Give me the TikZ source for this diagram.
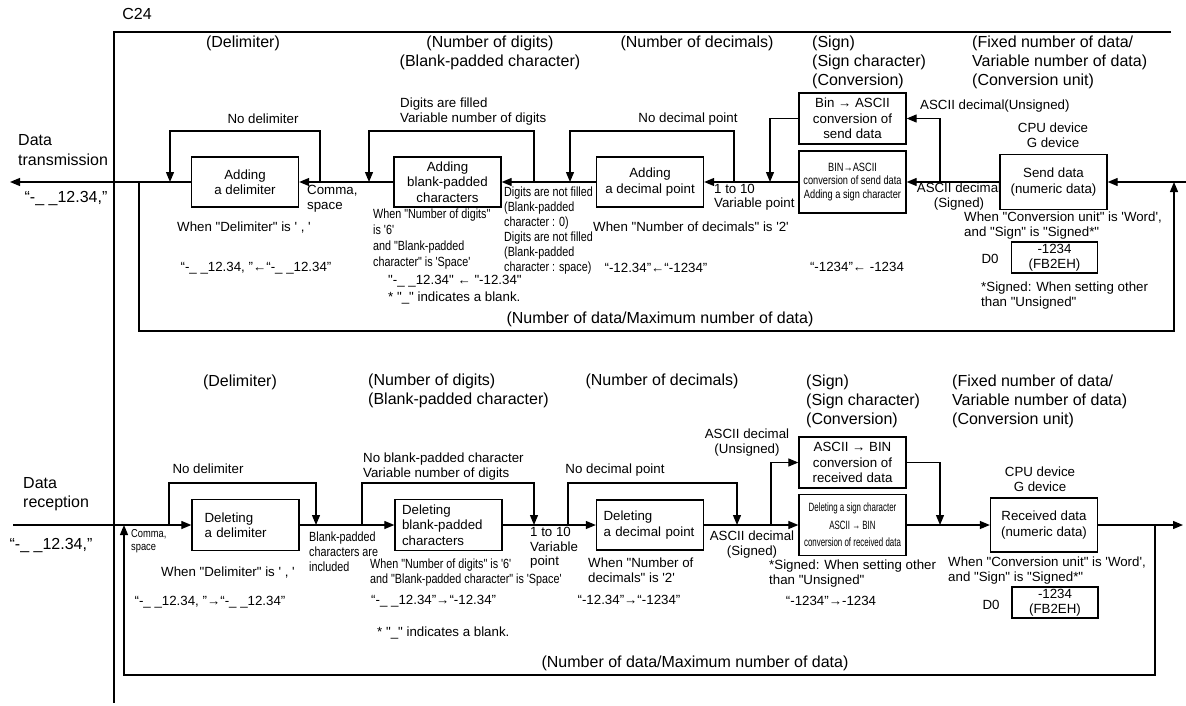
\documentclass[tikz,border=0pt]{standalone}
\usepackage{fontspec}
\newfontfamily\arialfont{Liberation Sans}
\newfontfamily\narrowfont{Liberation Sans}[FakeStretch=0.81]
\newfontfamily\condfont{Liberation Sans}[FakeStretch=0.77]
\newfontfamily\squeezefont{Liberation Sans}[FakeStretch=0.66]
\usetikzlibrary{arrows.meta,positioning}
\tikzset{
  procbox/.style ={rectangle, draw=black, line width=1.3pt, fill=white,
                   minimum width=107pt, minimum height=50pt, inner sep=2pt,
                   align=center, font=\arialfont\fontsize{13.3}{15.5}\selectfont},
  procleft/.style={procbox, align=left, inner xsep=7pt, text width=93pt},
  valbox/.style  ={procbox, minimum width=86pt, minimum height=31pt,
                   font=\arialfont\fontsize{13.3}{14.5}\selectfont},
  flow/.style    ={-{Triangle[length=10pt,width=8pt]}, line width=1.2pt},
  wire/.style    ={line width=1.2pt},
  hdtext/.style  ={inner sep=0pt, align=left, font=\arialfont\fontsize{16}{19}\selectfont},
  lbtext/.style  ={inner sep=0pt, align=left, font=\arialfont\fontsize{13.3}{15}\selectfont},
  nrtext/.style  ={inner sep=0pt, align=left, font=\narrowfont\fontsize{13.3}{15}\selectfont}
}

\begin{document}
\begin{tikzpicture}[x=1pt, y=-1pt]
  \useasboundingbox (0,0) rectangle (1186,706);

  % ---------------- C24 frame ----------------
  \node[hdtext] (c24) at (137,14) {C24};
  \coordinate (frtl) at (114,32);
  \draw[wire] (1171,32) -- (frtl) -- (114,703);

  % ---------------- Transmission ----------------
  \node[procbox] (tdel)   at (245,182)   {Adding\\a delimiter};
  \node[procbox] (tblank) at (447.5,182) {Adding\\blank-padded\\characters};
  \node[procbox] (tdec)   at (650,182)   {Adding\\a decimal point};
  \node[procbox, minimum height=51pt] (tsignA) at (852.5,118.5)
       {Bin → ASCII\\conversion of\\send data};
  \node[procbox, minimum height=62pt, font=\condfont\fontsize{12}{13.5}\selectfont]
       (tsignB) at (852.5,182) {BIN→ASCII\\conversion of send data\\Adding a sign character};
  % label runs under the send box
  \node[lbtext, align=center] (tsgnd) at (959,197) {ASCII decimal\\(Signed)};
  \node[procbox, minimum height=55pt] (tsend) at (1053.5,182) {Send data\\(numeric data)};
  \node[valbox] (tval) at (1054.5,257.5) {-1234\\(FB2EH)};

  \node[hdtext] (tdelhd) at (243,43) {(Delimiter)};
  \node[hdtext, align=center] (tdighd) at (490,52.5) {(Number of digits)\\(Blank-padded character)};
  \node[hdtext] (tdechd) at (697,43) {(Number of decimals)};
  \node[hdtext, anchor=west] (tsignhd) at (812,62) {(Sign)\\(Sign character)\\(Conversion)};
  \node[hdtext, anchor=west] (tunithd) at (972,62)
       {(Fixed number of data/\\Variable number of data)\\(Conversion unit)};
  \node[hdtext, anchor=west, font=\arialfont\fontsize{16}{20}\selectfont] (txname) at (18,150)
       {Data\\transmission};
  \node[hdtext] (txval) at (66,199) {“-\_ \_12.34,”};

  \node[lbtext] (tnodel) at (263,119) {No delimiter};
  \node[lbtext, anchor=west] (tfill) at (400,112) {Digits are filled\\Variable number of digits};
  \node[lbtext] (tnodp) at (688,119) {No decimal point};
  \node[lbtext, anchor=west] (tunsg) at (920,106) {ASCII decimal(Unsigned)};
  \node[lbtext, align=center] (tcpu) at (1053,135.5) {CPU device\\G device};
  \node[lbtext, anchor=west] (tcomma) at (307,199) {Comma,\\space};
  \node[lbtext] (tdelwhen) at (244,228) {When "Delimiter" is ' , '};
  \node[lbtext] (tdelex) at (256,268) {“-\_ \_12.34, ”←“-\_ \_12.34”};
  \node[nrtext, anchor=west, font=\narrowfont\fontsize{13.3}{16}\selectfont] (tdigwhen) at (373,239)
       {When "Number of digits"\\is '6'\\and "Blank-padded\\character" is 'Space'};
  \node[lbtext, anchor=west] (tdigex) at (388,281) {"-\_ \_12.34" ← "-12.34"};
  \node[lbtext, anchor=west] (tblnote) at (388,298) {* "\_" indicates a blank.};
  \node[nrtext, anchor=west] (tnotfill) at (504,231)
       {Digits are not filled\\(Blank-padded\\character : 0)\\Digits are not filled\\(Blank-padded\\character : space)};
  \node[lbtext, anchor=west, font=\arialfont\fontsize{13.3}{14}\selectfont] (tdprange) at (714,197)
       {1 to 10\\Variable point};
  \node[lbtext] (tdecwhen) at (691,227) {When "Number of decimals" is '2'};
  \node[lbtext] (tdecex) at (656,268) {“-12.34”←“-1234”};
  \node[lbtext] (tsignex) at (857,267) {“-1234”← -1234};
  \node[lbtext, anchor=west] (tunitwhen) at (964,225.5)
       {When "Conversion unit" is 'Word',\\and "Sign" is "Signed*"};
  \node[lbtext] (td0) at (990,259) {D0};
  \node[lbtext, anchor=west] (tsgnote) at (981,296) {*Signed: When setting other\\than "Unsigned"};
  \node[hdtext] (tcount) at (660,319) {(Number of data/Maximum number of data)};

  % ---------------- Transmission edges ----------------
  \coordinate (txout) at (10,182);
  \coordinate (txin)  at (1186,182);
  \coordinate (tj1)   at (320,182);
  \coordinate (tj2)   at (170,182);
  \coordinate (tj3)   at (534,182);
  \coordinate (tj4)   at (369,182);
  \coordinate (tj5)   at (734,182);
  \coordinate (tj6)   at (570,182);
  \coordinate (tj7)   at (940,182);
  \coordinate (tj8)   at (770,182);
  \coordinate (tj9)   at (139,182);
  \coordinate (tj10)  at (1174,182);
  \draw[flow] (txin) -- (tsend.east);
  \draw[flow] (tsend.west) -- (tsignB.east);
  \draw[flow] (tsignB.west) -- (tdec.east);
  \draw[flow] (tdec.west) -- (tblank.east);
  \draw[flow] (tblank.west) -- (tdel.east);
  \draw[flow] (tdel.west) -- (txout);
  \draw[flow] (tj1) -- ++(0,-51) -| (tj2);
  \draw[flow] (tj3) -- ++(0,-51) -| (tj4);
  \draw[flow] (tj5) -- ++(0,-51) -| (tj6);
  \draw[flow] (tj7) |- (tsignA.east);
  \draw[flow] (tsignA.west) -| (tj8);
  % count loop back to the send side
  \draw[flow] (tj9) -- ++(0,149) -| (tj10);

  % ---------------- Reception ----------------
  \node[procleft, inner xsep=12pt, text width=82pt, minimum height=51pt] (rdel) at (245.5,525)
       {Deleting\\a delimiter};
  \node[procleft, minimum height=51pt] (rblank) at (448.5,525) {Deleting\\blank-padded\\characters};
  \node[procleft] (rdec) at (650,525) {Deleting\\a decimal point};
  \node[procbox, minimum height=51pt] (rsignA) at (852.5,462.5)
       {ASCII → BIN\\conversion of\\received data};
  \node[procbox, minimum height=61pt, font=\squeezefont\fontsize{12}{17.5}\selectfont]
       (rsignB) at (852.5,525) {Deleting a sign character\\ASCII → BIN\\conversion of received data};
  \node[procbox, minimum height=54pt] (rrecv) at (1044,525) {Received data\\(numeric data)};
  \node[valbox] (rval) at (1055,602.5) {-1234\\(FB2EH)};

  \node[hdtext] (rdelhd) at (240,382) {(Delimiter)};
  \node[hdtext, anchor=west] (rdighd) at (368,391) {(Number of digits)\\(Blank-padded character)};
  \node[hdtext] (rdechd) at (662,381) {(Number of decimals)};
  \node[hdtext, anchor=west] (rsignhd) at (806,401) {(Sign)\\(Sign character)\\(Conversion)};
  \node[hdtext, anchor=west] (runithd) at (952,401)
       {(Fixed number of data/\\Variable number of data)\\(Conversion unit)};
  \node[hdtext, anchor=west] (rxname) at (23,494.5) {Data\\reception};
  \node[hdtext] (rxval) at (51,545) {“-\_ \_12.34,”};

  \node[lbtext] (rnodel) at (208,469) {No delimiter};
  \node[lbtext, anchor=west] (rnoblank) at (363,466.5)
       {No blank-padded character\\Variable number of digits};
  \node[lbtext] (rnodp) at (615,470) {No decimal point};
  \node[lbtext, align=center] (runsg) at (747,442.5) {ASCII decimal\\(Unsigned)};
  \node[lbtext, align=center] (rcpu) at (1040,479.5) {CPU device\\G device};
  \node[nrtext, anchor=west, font=\narrowfont\fontsize{11.5}{13}\selectfont] (rcomma) at (131,541.5)
       {Comma,\\space};
  \node[nrtext, anchor=west] (rincl) at (309,552) {Blank-padded\\characters are\\included};
  \node[lbtext, anchor=west, font=\arialfont\fontsize{13.3}{14.5}\selectfont] (rdprange) at (530,548)
       {1 to 10\\Variable\\point};
  \node[lbtext, align=center] (rsgnd) at (752,544.5) {ASCII decimal\\(Signed)};
  \node[lbtext] (rdelwhen) at (228,573) {When "Delimiter" is ' , '};
  \node[lbtext] (rdelex) at (210,602) {“-\_ \_12.34, ”→“-\_ \_12.34”};
  \node[nrtext, anchor=west] (rdigwhen) at (370,572.5)
       {When "Number of digits" is '6'\\and "Blank-padded character" is 'Space'};
  \node[lbtext, anchor=west] (rdigex) at (371,601) {“-\_ \_12.34”→“-12.34”};
  \node[lbtext, anchor=west] (rblnote) at (377,633) {* "\_" indicates a blank.};
  \node[lbtext, anchor=west] (rdecwhen) at (588,570.5) {When "Number of\\decimals" is '2'};
  \node[lbtext] (rdecex) at (629,600) {“-12.34”→“-1234”};
  \node[lbtext, anchor=west] (rsgnote) at (769,573.5) {*Signed: When setting other\\than "Unsigned"};
  \node[lbtext] (rsignex) at (831,601) {“-1234”→-1234};
  \node[lbtext, anchor=west] (runitwhen) at (948,570.5)
       {When "Conversion unit" is 'Word',\\and "Sign" is "Signed*"};
  \node[lbtext] (rd0) at (991,605) {D0};
  \node[hdtext] (rcount) at (695,663) {(Number of data/Maximum number of data)};

  % ---------------- Reception edges ----------------
  \coordinate (rxin)  at (13,525);
  \coordinate (rxout) at (1183,525);
  \coordinate (rj1)   at (169,525);
  \coordinate (rj2)   at (316,525);
  \coordinate (rj3)   at (362,525);
  \coordinate (rj4)   at (534,525);
  \coordinate (rj5)   at (568,525);
  \coordinate (rj6)   at (737,525);
  \coordinate (rj7)   at (771,525);
  \coordinate (rj8)   at (940,525);
  \coordinate (rj9)   at (1155,525);
  \coordinate (rj10)  at (124,525);
  \draw[flow] (rxin) -- (rdel.west);
  \draw[flow] (rdel.east) -- (rblank.west);
  \draw[flow] (rblank.east) -- (rdec.west);
  \draw[flow] (rdec.east) -- (rsignB.west);
  \draw[flow] (rsignB.east) -- (rrecv.west);
  \draw[flow] (rrecv.east) -- (rxout);
  \draw[flow] (rj1) -- ++(0,-42) -| (rj2);
  \draw[flow] (rj3) -- ++(0,-42) -| (rj4);
  \draw[flow] (rj5) -- ++(0,-42) -| (rj6);
  \draw[flow] (rj7) |- (rsignA.west);
  \draw[flow] (rsignA.east) -| (rj8);
  % count loop back to the line input
  \draw[flow] (rj9) -- ++(0,150) -| (rj10);
\end{tikzpicture}
\end{document}
